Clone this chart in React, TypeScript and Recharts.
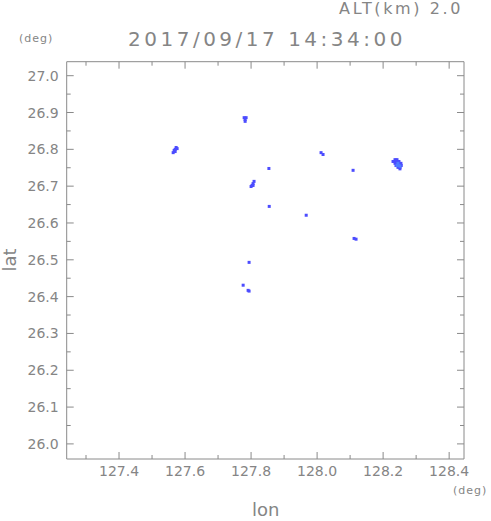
import { ScatterChart, Scatter, XAxis, YAxis } from "recharts";

// echo cells (weak)
const echoLon = [
  127.573, 127.570, 127.576, 127.567, 127.564, 127.570,
  127.779, 127.785, 127.782, 127.782,
  127.854,
  127.809, 127.806, 127.803, 127.800, 127.806,
  127.855,
  128.012, 128.018,
  128.109,
  127.967,
  128.112, 128.118,
  127.794,
  127.776,
  127.791, 127.794,
  128.236, 128.242,
  128.230, 128.236, 128.242, 128.248,
  128.236, 128.242, 128.248, 128.254,
  128.239, 128.245, 128.251, 128.255,
  128.245, 128.251,
  128.251,
];
const echoLat = [
  26.805, 26.800, 26.802, 26.797, 26.791, 26.794,
  26.886, 26.886, 26.881, 26.876,
  26.748,
  26.713, 26.707, 26.702, 26.699, 26.702,
  26.645,
  26.791, 26.786,
  26.743,
  26.621,
  26.558, 26.556,
  26.493,
  26.431,
  26.417, 26.415,
  26.772, 26.772,
  26.767, 26.767, 26.767, 26.767,
  26.762, 26.762, 26.762, 26.762,
  26.756, 26.756, 26.756, 26.756,
  26.751, 26.751,
  26.747,
];

// stronger core of the big cell
const coreLon = [128.245, 128.248, 128.242, 128.251];
const coreLat = [26.762, 26.756, 26.756, 26.754];

const lonTicks = [127.3, 127.4, 127.5, 127.6, 127.7, 127.8, 127.9, 128.0, 128.1, 128.2, 128.3, 128.4];
const lonLabels = [127.4, 127.6, 127.8, 128.0, 128.2, 128.4];
const latTicks = [
  26.0, 26.05, 26.1, 26.15, 26.2, 26.25, 26.3, 26.35, 26.4, 26.45, 26.5,
  26.55, 26.6, 26.65, 26.7, 26.75, 26.8, 26.85, 26.9, 26.95, 27.0,
];
const latLabels = [26.0, 26.1, 26.2, 26.3, 26.4, 26.5, 26.6, 26.7, 26.8, 26.9, 27.0];

const echo = echoLon.map((lon, i) => ({ lon, lat: echoLat[i] }));
const core = coreLon.map((lon, i) => ({ lon, lat: coreLat[i] }));

const AXIS = "#8a8a8a";
const TXT = "#858585";
const FONT = "'DejaVu Sans', sans-serif";

const isLabel = (v: number, list: number[]) => list.some((l) => Math.abs(l - v) < 1e-6);

function BottomTick({ x, y, payload }: any) {
  const major = isLabel(payload.value, lonLabels);
  return (
    <g>
      <line x1={x} x2={x} y1={y} y2={y - (major ? 7 : 4)} stroke={AXIS} />
      {major && (
        <text x={x} y={y + 17} textAnchor="middle" fill={TXT} fontSize={14} fontFamily={FONT}>
          {payload.value.toFixed(1)}
        </text>
      )}
    </g>
  );
}

function TopTick({ x, y, payload }: any) {
  const major = isLabel(payload.value, lonLabels);
  return <line x1={x} x2={x} y1={y} y2={y + (major ? 7 : 4)} stroke={AXIS} />;
}

function LeftTick({ x, y, payload }: any) {
  const major = isLabel(payload.value, latLabels);
  return (
    <g>
      <line x1={x} x2={x + (major ? 7 : 4)} y1={y} y2={y} stroke={AXIS} />
      {major && (
        <text x={x - 8} y={y + 5} textAnchor="end" fill={TXT} fontSize={14} fontFamily={FONT}>
          {payload.value.toFixed(1)}
        </text>
      )}
    </g>
  );
}

function RightTick({ x, y, payload }: any) {
  const major = isLabel(payload.value, latLabels);
  return <line x1={x} x2={x - (major ? 7 : 4)} y1={y} y2={y} stroke={AXIS} />;
}

const cell = (color: string) => (p: any) =>
  <rect x={p.cx - 1.5} y={p.cy - 1.5} width={3} height={3} fill={color} />;

const abs = (style: React.CSSProperties): React.CSSProperties => ({
  position: "absolute",
  fontFamily: FONT,
  color: TXT,
  whiteSpace: "nowrap",
  lineHeight: 1,
  ...style,
});

const axisCommon = {
  type: "number" as const,
  allowDataOverflow: true,
  interval: 0 as const,
  tickSize: 0,
  tickMargin: 0,
  stroke: AXIS,
};

export default function App() {
  return (
    <div style={{ position: "relative", width: 491, height: 521, background: "#fff" }}>
      <style>{`body{margin:0}`}</style>
      <ScatterChart width={491} height={521} margin={{ top: 51.7, right: 17, bottom: 32, left: 6.7 }}>
        <XAxis
          {...axisCommon}
          xAxisId="b"
          dataKey="lon"
          domain={[127.2415, 128.445]}
          ticks={lonTicks}
          height={30}
          tick={<BottomTick />}
        />
        <XAxis
          {...axisCommon}
          xAxisId="t"
          orientation="top"
          dataKey="lon"
          domain={[127.2415, 128.445]}
          ticks={lonTicks}
          height={10}
          tick={<TopTick />}
        />
        <YAxis
          {...axisCommon}
          yAxisId="l"
          dataKey="lat"
          domain={[25.959, 27.038]}
          ticks={latTicks}
          width={60}
          tick={<LeftTick />}
        />
        <YAxis
          {...axisCommon}
          yAxisId="r"
          orientation="right"
          dataKey="lat"
          domain={[25.959, 27.038]}
          ticks={latTicks}
          width={10}
          tick={<RightTick />}
        />
        <Scatter xAxisId="b" yAxisId="l" data={echo} shape={cell("#4c4cff")} isAnimationActive={false} />
        <Scatter xAxisId="b" yAxisId="l" data={core} shape={cell("#4f7cff")} isAnimationActive={false} />
        <Scatter xAxisId="t" yAxisId="r" data={core} shape={() => <g />} isAnimationActive={false} />
      </ScatterChart>
      <div style={abs({ right: 28, top: 1, fontSize: 16, letterSpacing: 2.6 })}>ALT(km) 2.0</div>
      <div style={abs({ left: 128, top: 29, fontSize: 20, letterSpacing: 3.5 })}>2017/09/17 14:34:00</div>
      <div style={abs({ left: 19, top: 33, fontSize: 11, letterSpacing: 1 })}>(deg)</div>
      <div style={abs({ left: 453, top: 485, fontSize: 11, letterSpacing: 1 })}>(deg)</div>
      <div style={abs({ left: 252, top: 501, fontSize: 18 })}>lon</div>
      <div
        style={abs({
          left: 10,
          top: 260,
          fontSize: 18,
          transform: "translate(-50%, -50%) rotate(-90deg)",
        })}
      >
        lat
      </div>
    </div>
  );
}
